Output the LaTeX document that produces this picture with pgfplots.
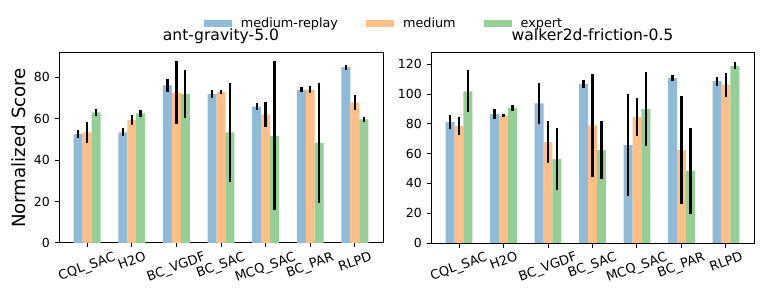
\documentclass[border=0pt]{standalone}
\usepackage{fontspec}
\setmainfont{DejaVu Sans}
\usepackage{graphicx}
\usepackage{pgfplots}
\usepackage{pgfplotstable}
\pgfplotsset{compat=1.18}

\definecolor{cmr}{RGB}{143,187,217}
\definecolor{cm}{RGB}{255,191,134}
\definecolor{cex}{RGB}{149,207,149}

\pgfplotstableread{
x mr mre m me ex exe
0 52.6 2.1 53.5 5.2 63.1 1.8
1 53.5 1.9 59.4 2.4 62.6 1.6
2 76.1 3.3 72.7 15.1 72.0 11.4
3 71.9 2.0 73.0 0.8 53.5 24.0
4 65.9 1.5 62.1 5.9 51.8 36.0
5 74.0 1.2 74.0 1.7 48.4 28.9
6 85.0 1.2 68.0 3.5 59.7 1.2
}\antdata

\pgfplotstableread{
x mr mre m me ex exe
0 81.2 4.5 78.5 6.2 101.8 14.1
1 86.5 3.2 85.7 1.2 90.8 2.0
2 93.7 13.6 67.7 14.3 56.3 21.0
3 106.7 2.6 79.0 34.4 62.3 19.4
4 65.7 34.3 84.7 12.9 89.9 24.9
5 110.8 2.2 62.3 36.4 48.2 28.7
6 108.7 3.0 106.3 8.2 119.0 2.3
}\walkerdata

\newcommand{\tickfont}{\fontsize{12.5bp}{15bp}\selectfont}
\newcommand{\xtickfont}{\fontsize{13bp}{15bp}\selectfont}
\newcommand{\rl}[1]{\rotatebox{20}{\xtickfont #1}}

\pgfplotsset{
  mybase/.style={
    scale only axis,
    width=324bp, height=190bp,
    anchor=south west,
    ybar, bar width=0.2,
    xmin=-0.63, xmax=6.63,
    ymin=0,
    xtick={0,1,2,3,4,5,6},
    xticklabels={\rl{CQL\_SAC},\rl{H2O},\rl{BC\_VGDF},\rl{BC\_SAC},\rl{MCQ\_SAC},\rl{BC\_PAR},\rl{RLPD}},
    xtick pos=bottom, ytick pos=left,
    tick align=outside,
    major tick length=4.5bp,
    axis line style={line width=1bp},
    every tick/.style={line width=1bp, black},
    xticklabel style={font=\xtickfont, anchor=north, inner sep=0pt, yshift=-3.5bp},
    yticklabel style={font=\tickfont, anchor=east, inner sep=0pt, xshift=-4.5bp},
    /pgf/number format/assume math mode=true,
    title style={font=\fontsize{15.6bp}{18bp}\selectfont, at={(rel axis cs:0.5,1)}, anchor=base, yshift=7bp},
    error bars/y dir=both,
    error bars/y explicit,
    error bars/error mark=none,
    error bars/error bar style={line width=2.4bp, black},
    legend image code/.code={\fill[##1] (0bp,-3.5bp) rectangle (28bp,3.5bp);},
  },
  mr/.style={fill=cmr, draw=none, bar shift=-0.2},
  md/.style={fill=cm, draw=none, bar shift=0},
  ex/.style={fill=cex, draw=none, bar shift=0.2},
}

\begin{document}
\begin{tikzpicture}
\useasboundingbox (0,0) rectangle (764bp,302bp);
\begin{axis}[mybase,
  at={(59bp,59bp)},
  ymax=91.8,
  ytick={0,20,40,60,80},
  title={ant-gravity-5.0},
  ylabel={Normalized Score},
  ylabel style={font=\fontsize{18.2bp}{21bp}\selectfont, at={(rel axis cs:-0.1235,0.5)}, anchor=center, rotate=0},
  legend columns=3,
  legend style={draw=none, fill=none, at={(rel axis cs:1,1.156)}, anchor=center, inner sep=0pt,
    font=\fontsize{12.8bp}{15bp}\selectfont,
    nodes={inner sep=0pt},
    /tikz/every even column/.append style={column sep=28bp}},
]
\addplot[mr] table[x=x, y=mr, y error=mre] {\antdata};
\addplot[md] table[x=x, y=m, y error=me] {\antdata};
\addplot[ex] table[x=x, y=ex, y error=exe] {\antdata};
\legend{\hspace{9bp}medium-replay, \hspace{9bp}medium, \hspace{9bp}expert}
\end{axis}
\begin{axis}[mybase,
  at={(431bp,59bp)},
  width=323bp,
  ymax=127.6,
  ytick={0,20,40,60,80,100,120},
  title={walker2d-friction-0.5},
]
\addplot[mr] table[x=x, y=mr, y error=mre] {\walkerdata};
\addplot[md] table[x=x, y=m, y error=me] {\walkerdata};
\addplot[ex] table[x=x, y=ex, y error=exe] {\walkerdata};
\end{axis}
\end{tikzpicture}
\end{document}
